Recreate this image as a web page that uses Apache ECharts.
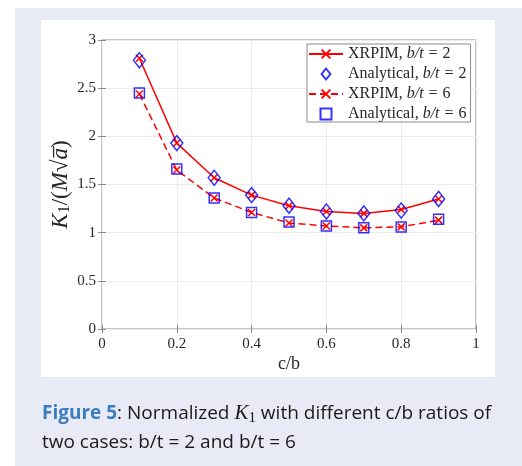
<!DOCTYPE html>
<html>
<head>
<meta charset="utf-8">
<script src="https://cdn.jsdelivr.net/npm/echarts@6/dist/echarts.min.js"></script>
<style>
  html, body { margin: 0; padding: 0; background: #ffffff; width: 522px; height: 466px; overflow: hidden; }
  #bg { position: absolute; left: 15px; top: 8px; width: 507px; height: 458px; background: #e8ebf6; }
  #panel { position: absolute; left: 41px; top: 20px; width: 454px; height: 357px; background: #ffffff; }
  #chart { position: absolute; left: 0; top: 0; width: 522px; height: 466px; }
  #caption { position: absolute; left: 42px; top: 398px; width: 478px; font-family: 'Open Sans', sans-serif; font-size: 19px; line-height: 29px; color: #1a1a1a; white-space: nowrap; }
  #caption b { color: #3b7dc0; font-weight: 700; }
  #caption .m { font-family: 'Liberation Serif', serif; font-style: italic; font-size: 21px; }
  #caption .s { font-family: 'Liberation Serif', serif; font-size: 15px; vertical-align: -3px; line-height: 0; }
</style>
</head>
<body>
<div id="bg"></div>
<div id="panel"></div>
<div id="chart"></div>
<div id="caption"><b>Figure 5</b>: Normalized <span class="m">K</span><span class="s">1</span> with different c/b ratios of<br>two cases: b/t = 2 and b/t = 6</div>
<script>
// ---- data ----
const cbRatios = [0.1, 0.2, 0.3, 0.4, 0.5, 0.6, 0.7, 0.8, 0.9];
const xrpimBt2 = [2.81, 1.93, 1.57, 1.39, 1.28, 1.22, 1.20, 1.24, 1.35];
const analyticalBt2 = [2.79, 1.93, 1.57, 1.39, 1.28, 1.22, 1.20, 1.23, 1.35];
const xrpimBt6 = [2.44, 1.65, 1.36, 1.21, 1.10, 1.07, 1.05, 1.06, 1.13];
const analyticalBt6 = [2.45, 1.66, 1.36, 1.21, 1.11, 1.07, 1.05, 1.06, 1.14];
const seriesNames = ['XRPIM, b/t = 2', 'Analytical, b/t = 2', 'XRPIM, b/t = 6', 'Analytical, b/t = 6'];

function pairs(ys) { return cbRatios.map((x, i) => [x, ys[i]]); }

const serif = "'Liberation Serif', 'Times New Roman', serif";
const textColor = '#262626';
const boxColor = '#8c8c8c';
const gridColor = '#ebebeb';
const crossPath = 'path://M0,0L10,10M10,0L0,10';
const diamondPath = 'path://M6,0L12,7.5L6,15L0,7.5Z';
const squarePath = 'path://M0,0L10,0L10,10L0,10Z';

const chart = echarts.init(document.getElementById('chart'), null, { renderer: 'canvas' });

const axisCommon = {
  type: 'value',
  axisLine: { show: false },
  axisTick: { show: true, inside: true, length: 4, lineStyle: { color: boxColor, width: 1 } },
  axisLabel: { color: textColor, fontFamily: serif, fontSize: 15 },
  splitLine: { show: true, lineStyle: { color: gridColor, width: 1 } }
};

chart.setOption({
  animation: false,
  backgroundColor: 'transparent',
  grid: { left: 102, top: 40, width: 374, height: 289, show: true, borderColor: boxColor, borderWidth: 1, backgroundColor: 'transparent' },
  xAxis: [
    Object.assign({}, axisCommon, {
      min: 0, max: 1, interval: 0.2, position: 'bottom',
      axisLabel: Object.assign({}, axisCommon.axisLabel, { margin: 8 }),
      name: 'c/b', nameLocation: 'middle', nameGap: 26, nameMoveOverlap: false,
      nameTextStyle: { color: textColor, fontFamily: serif, fontSize: 18 }
    }),
    Object.assign({}, axisCommon, {
      min: 0, max: 1, interval: 0.2, position: 'top',
      axisLabel: { show: false }, splitLine: { show: false }
    })
  ],
  yAxis: [
    Object.assign({}, axisCommon, {
      min: 0, max: 3, interval: 0.5, position: 'left',
      axisLabel: Object.assign({}, axisCommon.axisLabel, { margin: 6 }),
      name: '{i|K}{s|1}{n|/(}{i|M}{n|√}{o|a̅}{n|)}', nameLocation: 'middle', nameGap: 29, nameMoveOverlap: false,
      nameTextStyle: {
        color: textColor,
        rich: {
          i: { fontFamily: serif, fontStyle: 'italic', fontSize: 23, color: textColor },
          n: { fontFamily: serif, fontSize: 23, color: textColor },
          o: { fontFamily: serif, fontStyle: 'italic', fontSize: 23, color: textColor },
          s: { fontFamily: serif, fontSize: 16, color: textColor, padding: [9, 0, 0, 0] }
        }
      }
    }),
    Object.assign({}, axisCommon, {
      min: 0, max: 3, interval: 0.5, position: 'right',
      axisLabel: { show: false }, splitLine: { show: false }
    })
  ],
  legend: {
    orient: 'vertical',
    left: 307, top: 44,
    backgroundColor: '#ffffff',
    borderColor: boxColor, borderWidth: 1, borderRadius: 0,
    padding: [2, 4, 0, 1],
    itemGap: 4,
    itemWidth: 34, itemHeight: 11,
    symbolKeepAspect: true,
    selectedMode: false,
    data: seriesNames,
    formatter: function (name) {
      const m = name.match(/^(.*), b\/t = (\d)$/);
      return '{n|' + m[1] + ', }{i|b/t}{e|=}{n|' + m[2] + '}';
    },
    textStyle: {
      color: textColor,
      rich: {
        n: { fontFamily: serif, fontSize: 16, color: textColor },
        i: { fontFamily: serif, fontStyle: 'italic', fontSize: 16, color: textColor },
        e: { fontFamily: serif, fontSize: 16, color: textColor, padding: [0, 5, 0, 5] }
      }
    }
  },
  series: [
    {
      name: seriesNames[0], type: 'line', data: pairs(xrpimBt2),
      xAxisIndex: 0, yAxisIndex: 0,
      color: '#ff0000',
      lineStyle: { color: '#ff0000', width: 1.5, type: 'solid' },
      symbol: crossPath, symbolSize: 7,
      itemStyle: { color: 'transparent', borderColor: '#ff0000', borderWidth: 1.5 },
      emphasis: { disabled: true }, z: 2
    },
    {
      name: seriesNames[1], type: 'scatter', data: pairs(analyticalBt2),
      xAxisIndex: 0, yAxisIndex: 0,
      symbol: diamondPath, symbolSize: [12, 15], symbolKeepAspect: false,
      itemStyle: { color: 'transparent', borderColor: '#0000ff', borderWidth: 1.5 },
      emphasis: { disabled: true }, z: 3
    },
    {
      name: seriesNames[2], type: 'line', data: pairs(xrpimBt6),
      xAxisIndex: 0, yAxisIndex: 0,
      color: '#ff0000',
      lineStyle: { color: '#ff0000', width: 1.5, type: [7, 4] },
      symbol: crossPath, symbolSize: 7,
      itemStyle: { color: 'transparent', borderColor: '#ff0000', borderWidth: 1.5 },
      emphasis: { disabled: true }, z: 2
    },
    {
      name: seriesNames[3], type: 'scatter', data: pairs(analyticalBt6),
      xAxisIndex: 0, yAxisIndex: 0,
      symbol: squarePath, symbolSize: 10, symbolKeepAspect: false,
      itemStyle: { color: 'transparent', borderColor: '#0000ff', borderWidth: 1.5 },
      emphasis: { disabled: true }, z: 3
    }
  ]
});
</script>
</body>
</html>
